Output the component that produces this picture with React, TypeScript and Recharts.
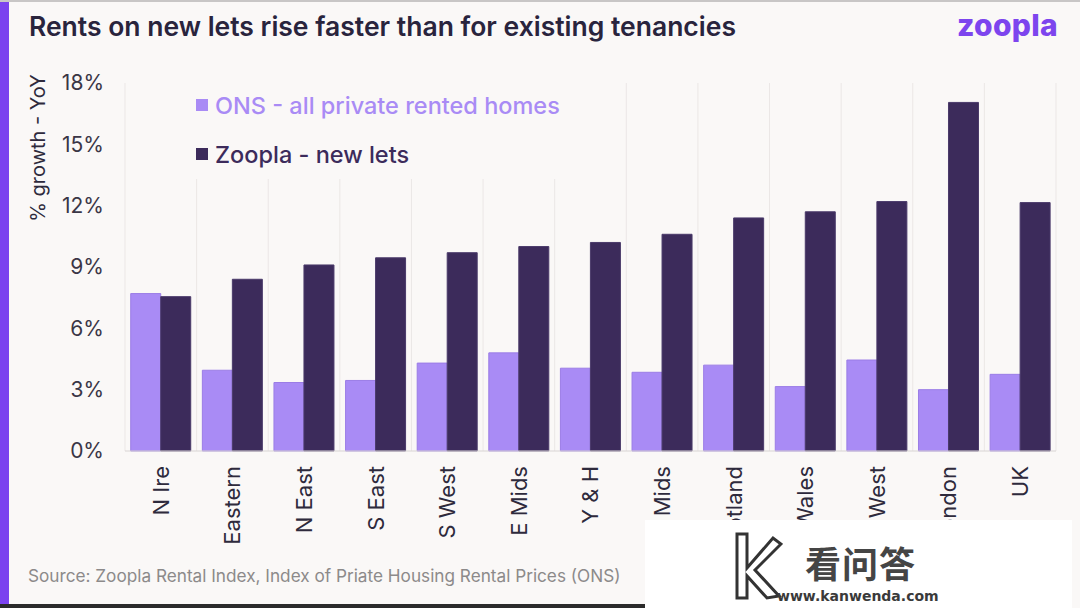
import React from 'react'
import { BarChart, Bar, XAxis, YAxis, CartesianGrid } from 'recharts'

const regions = ['N Ire', 'Eastern', 'N East', 'S East', 'S West', 'E Mids', 'Y & H', 'W Mids', 'Scotland', 'Wales', 'N West', 'London', 'UK']
const onsGrowth = [7.7, 3.95, 3.35, 3.45, 4.3, 4.8, 4.05, 3.85, 4.2, 3.15, 4.45, 3.0, 3.75]
const zooplaGrowth = [7.55, 8.4, 9.1, 9.45, 9.7, 10.0, 10.2, 10.6, 11.4, 11.7, 12.2, 17.05, 12.15]
const yTicks = [0, 3, 6, 9, 12, 15, 18]

const data = regions.map((region, i) => ({ region, ons: onsGrowth[i], zoopla: zooplaGrowth[i] }))

const BG = '#faf8f7'
const ONS = '#a98bf5'
const ZOOPLA = '#3c2b5b'
const FONT = 'Inter, "Noto Sans", sans-serif'

const legendRows = [
  { label: 'ONS - all private rented homes', color: ONS, top: 0 },
  { label: 'Zoopla - new lets', color: ZOOPLA, top: 49 },
]

function RegionTick({ x, y, payload }: any) {
  return (
    <text
      x={x}
      y={y + 7}
      transform={`rotate(-90 ${x} ${y + 7})`}
      textAnchor="end"
      dy="0.36em"
      fontSize={22}
      fill="#2e2a3c"
      fontFamily={FONT}
    >
      {payload.value}
    </text>
  )
}

function LegendBox() {
  return (
    <div style={{ position: 'absolute', left: 130, top: 83, width: 440, height: 96, background: BG }}>
      {legendRows.map((r) => (
        <div
          key={r.label}
          style={{
            position: 'absolute',
            left: 66,
            top: r.top,
            height: 44,
            display: 'flex',
            alignItems: 'center',
            color: r.color,
            fontSize: 23.5,
            fontWeight: 500,
            fontFamily: FONT,
            whiteSpace: 'nowrap',
          }}
        >
          <span style={{ width: 12, height: 12, background: r.color, marginRight: 7, display: 'inline-block' }} />
          {r.label}
        </div>
      ))}
    </div>
  )
}

export default function App() {
  return (
    <div style={{ position: 'absolute', left: 0, top: 0, width: 1080, height: 608, background: BG, overflow: 'hidden', fontFamily: FONT }}>
      <div style={{ position: 'absolute', left: 0, top: 0, width: 1080, height: 2, background: '#c8c6c6' }} />
      <div style={{ position: 'absolute', left: 0, top: 2, width: 9, height: 602, background: '#7b42ef' }} />
      <div style={{ position: 'absolute', left: 0, top: 604, width: 650, height: 4, background: '#2b2b2b' }} />
      <div style={{ position: 'absolute', left: 29, top: 10, fontSize: 26.5, fontWeight: 600, color: '#29243d', whiteSpace: 'nowrap' }}>
        Rents on new lets rise faster than for existing tenancies
      </div>
      <div style={{ position: 'absolute', left: 957, top: 7, fontSize: 30, fontWeight: 800, color: '#7d45ee', letterSpacing: 0.3 }}>
        zoopla
      </div>
      <BarChart
        width={1080}
        height={608}
        data={data}
        margin={{ top: 83, right: 24, bottom: 0, left: 0 }}
        barCategoryGap="8%"
        barGap={0}
      >
        <CartesianGrid
          horizontal={false}
          stroke="#ebe7e6"
          verticalCoordinatesGenerator={({ offset }: any) =>
            regions.map((_, i) => offset.left + (i * offset.width) / regions.length).concat([offset.left + offset.width])
          }
        />
        <XAxis
          dataKey="region"
          interval={0}
          height={157}
          tickLine={false}
          axisLine={{ stroke: '#d8d4d4' }}
          tick={<RegionTick />}
        />
        <YAxis
          width={125}
          domain={[0, 18]}
          ticks={yTicks}
          tickFormatter={(v: number) => `${v}%`}
          axisLine={false}
          tickLine={false}
          tickSize={0}
          tickMargin={21}
          tick={{ fontSize: 21, fill: '#3a3646', fontFamily: FONT }}
          label={{
            content: ({ viewBox }: any) => (
              <text
                x={viewBox.x + 38}
                y={viewBox.y + 65}
                transform={`rotate(-90 ${viewBox.x + 38} ${viewBox.y + 65})`}
                textAnchor="middle"
                dy="0.36em"
                fontSize={20}
                fill="#2e2a3c"
                fontFamily={FONT}
              >
                % growth - YoY
              </text>
            ),
          }}
        />
        <Bar dataKey="ons" name="ONS - all private rented homes" fill={ONS} stroke="#9b7de6" strokeWidth={1} isAnimationActive={false} />
        <Bar dataKey="zoopla" name="Zoopla - new lets" fill={ZOOPLA} stroke="#4a3a6a" strokeWidth={1} isAnimationActive={false} />
      </BarChart>
      <LegendBox />
      <div style={{ position: 'absolute', left: 28, top: 565, fontSize: 17.2, color: '#8c8a8a', whiteSpace: 'nowrap' }}>
        Source: Zoopla Rental Index, Index of Priate Housing Rental Prices (ONS)
      </div>
      <div style={{ position: 'absolute', left: 645, top: 520, width: 427, height: 88, background: '#ffffff' }}>
        <svg style={{ position: 'absolute', left: 88, top: 10 }} width={50} height={72}>
          <path d="M4 4 L14 4 L14 38 L40 8 L48 14 L22 40 L46 66 L34 68 L14 46 L14 68 L4 68 Z" fill="none" stroke="#333" strokeWidth={3} />
        </svg>
        <div style={{ position: 'absolute', left: 160, top: 16, fontSize: 36, fontWeight: 700, color: '#454545', fontFamily: '"Noto Sans CJK SC", sans-serif', letterSpacing: 1 }}>
          看问答
        </div>
        <div style={{ position: 'absolute', left: 132, top: 68, fontSize: 14, fontWeight: 700, color: '#3a3a3a', fontFamily: '"DejaVu Sans", sans-serif' }}>
          www.kanwenda.com
        </div>
      </div>
    </div>
  )
}
